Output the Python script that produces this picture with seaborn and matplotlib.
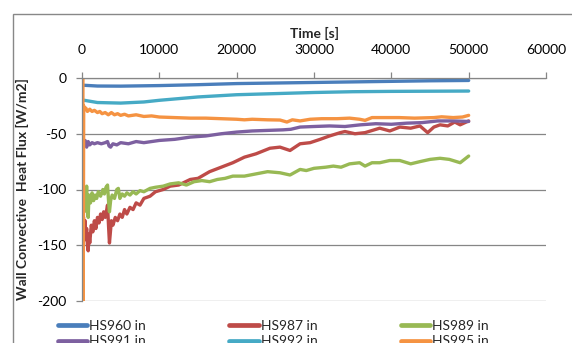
import matplotlib
matplotlib.use("Agg")
import matplotlib.pyplot as plt
import seaborn as sns
import pandas as pd
from matplotlib.patches import Rectangle

# ---------------- data ----------------
series_names = ["HS960 in", "HS987 in", "HS989 in", "HS991 in", "HS992 in", "HS995 in"]
series_colors = ["#4A7EBB", "#BE4B48", "#98B954", "#7D60A0", "#46AAC5", "#F59342"]

t_hs960 = [200, 2000, 5000, 10000, 15000, 20000, 25000, 30000, 35000, 40000, 45000, 50000]
v_hs960 = [-6.5, -7.2, -7.3, -6.8, -6.0, -5.0, -4.5, -4.0, -3.5, -3.0, -2.5, -2.2]

t_hs987 = [200, 300, 400, 500, 600, 700, 800, 900, 1000, 1200, 1400, 1600, 1800, 2000,
           2200, 2400, 2600, 2800, 3000, 3200, 3300, 3450, 3550, 3650, 3800, 4000, 4300,
           4600, 4900, 5200, 5500, 5800, 6200, 6600, 7000, 7500, 8000, 8800, 9500, 10500,
           11400, 12500, 14000, 15000, 16500, 18000, 19500, 21000, 22500, 24300, 25600,
           26900, 28200, 29500, 30800, 32000, 33400, 34000, 35300, 36600, 38500, 39800,
           41100, 42500, 43700, 44700, 45500, 46300, 47300, 48200, 48900, 50000]
v_hs987 = [-125, -140, -128, -145, -135, -150, -155, -140, -148, -132, -138, -128, -135, -125,
           -130, -122, -127, -120, -125, -118, -114, -135, -148, -140, -128, -132, -125,
           -128, -122, -125, -118, -122, -116, -118, -112, -114, -108, -106, -102, -100,
           -97, -96, -91, -90, -84, -80, -76, -71, -68, -63, -62,
           -65, -59, -58, -55, -52, -49, -48, -50, -49, -45, -47.5,
           -44, -45, -43, -49, -44, -42, -43, -39.5, -42, -38.5]

t_hs989 = [200, 300, 400, 500, 600, 700, 800, 900, 1100, 1300, 1500, 1700, 1900, 2100,
           2400, 2700, 2900, 3100, 3300, 3450, 3550, 3700, 3900, 4200, 4500, 4700, 4900,
           5200, 5500, 5800, 6200, 6600, 7000, 7500, 8000, 8800, 9500, 10500, 11400, 12500,
           13500, 14500, 15500, 16500, 17500, 18500, 19500, 21000, 22500, 24000, 25600,
           26900, 28200, 29000, 30000, 31500, 32500, 33500, 34600, 35900, 36600, 37500,
           38500, 39800, 41100, 42500, 43700, 45000, 46300, 47500, 48900, 50000]
v_hs989 = [-98, -120, -100, -112, -97, -118, -125, -105, -112, -103, -110, -105, -108, -102,
           -106, -100, -104, -98, -96, -112, -120, -110, -105, -108, -100, -99, -108,
           -104, -106, -103, -105, -102, -104, -101, -102, -99, -98, -97, -95, -94,
           -96, -93, -92, -93, -91, -90, -88, -88, -86, -84, -85,
           -87, -82, -83, -81, -80, -79, -80, -77, -76, -79, -76,
           -76, -74, -74, -77, -75, -73, -72, -73, -76, -70]

t_hs991 = [200, 400, 600, 800, 1000, 1300, 1600, 2000, 2500, 3000, 3300, 3500, 3700, 4000,
           4500, 5000, 6000, 7000, 8000, 9000, 10000, 12000, 14000, 16000, 18000, 20000,
           22000, 24000, 26000, 27000, 28200, 30000, 32000, 34000, 36000, 38000, 40000,
           42000, 44000, 46000, 48000, 50000]
v_hs991 = [-60, -56, -62, -57, -60, -58, -59, -58, -59, -58, -57, -61, -62, -59,
           -60, -58, -59, -57, -58, -57, -56, -55, -53, -52, -50, -48.5,
           -47.5, -47, -46.5, -46, -44, -43.5, -43, -43.5, -42, -41, -41.5,
           -40.5, -40, -38.5, -38.5, -39]

t_hs992 = [300, 2000, 5000, 8000, 10000, 15000, 20000, 25000, 30000, 35000, 40000, 50000]
v_hs992 = [-20, -22, -22.5, -21.5, -20, -17, -15, -14, -13, -12.3, -12, -11.7]

t_hs995 = [120, 120, 220, 350, 500, 700, 1000, 1300, 1600, 2000, 2300, 2600, 3000, 3400, 3800,
           4200, 4600, 5000, 5500, 6000, 7000, 8000, 9000, 10000, 12000, 14000, 16000,
           18000, 20000, 21000, 22000, 24000, 25600, 26500, 27200, 28200, 29500, 31000,
           33000, 34600, 35900, 36600, 37500, 39000, 41000, 43000, 45500, 46500, 48000,
           49200, 50000]
v_hs995 = [0, -300, -25, -28, -27, -30, -28, -30, -29, -31, -30, -32, -31, -33, -31,
           -33, -32, -33.5, -32.5, -34, -33, -34.5, -34, -35, -35.5, -36, -36,
           -36.5, -37, -37.5, -37, -37.5, -37.7, -39.5, -37.5, -38.5, -37, -36.5,
           -36.5, -36, -37, -38, -35.5, -35.5, -35.5, -36, -35.5, -34.8, -35.5,
           -35, -33.5]

x_ticks = [0, 10000, 20000, 30000, 40000, 50000, 60000]
y_ticks = [0, -50, -100, -150, -200]

# ---------------- build long table ----------------
all_t = [t_hs960, t_hs987, t_hs989, t_hs991, t_hs992, t_hs995]
all_v = [v_hs960, v_hs987, v_hs989, v_hs991, v_hs992, v_hs995]
frames = []
for name, tt, vv in zip(series_names, all_t, all_v):
    frames.append(pd.DataFrame({"Time": tt, "Flux": vv, "Series": name}))
df = pd.concat(frames, ignore_index=True)

# ---------------- plotting ----------------
sns.set_theme(style="white")
plt.rcParams["font.family"] = ["Lato", "DejaVu Sans"]

fig = plt.figure(figsize=(5.72, 3.43), dpi=100)
ax = fig.add_axes([82 / 572, 1 - 301 / 343, (546 - 82) / 572, (301 - 78) / 343])

palette = dict(zip(series_names, series_colors))
sns.lineplot(data=df, x="Time", y="Flux", hue="Series", hue_order=series_names,
             palette=palette, estimator=None, sort=False, units="Series",
             linewidth=2.4, ax=ax, legend=True)

ax.set_xlim(0, 60000)
ax.set_ylim(-200, 0)
ax.set_xticks(x_ticks)
ax.set_yticks(y_ticks)
ax.set_xticklabels([str(v) for v in x_ticks])
ax.set_yticklabels([str(v) for v in y_ticks])

ax.xaxis.tick_top()
ax.xaxis.set_label_position("top")
ax.set_xlabel("Time [s]", fontsize=10, fontweight="bold", labelpad=4)
ax.set_ylabel("Wall Convective  Heat Flux [W/m2]", fontsize=10, fontweight="bold", labelpad=6)

grid_col = "#868686"
ax.yaxis.grid(True, color=grid_col, linewidth=0.9)
ax.xaxis.grid(False)
for side in ["right", "bottom"]:
    ax.spines[side].set_visible(False)
for side in ["top", "left"]:
    ax.spines[side].set_color(grid_col)
    ax.spines[side].set_linewidth(0.9)
ax.tick_params(axis="x", which="both", top=True, bottom=False, direction="out",
               length=4, width=0.9, color=grid_col, pad=12, labelsize=10, labelcolor="black")
ax.tick_params(axis="y", which="both", left=True, direction="out",
               length=4, width=0.9, color=grid_col, pad=7, labelsize=10, labelcolor="black")
ax.set_facecolor("white")

# legend (row-major order in 3 columns)
handles, labels = ax.get_legend_handles_labels()
ax.get_legend().remove()
hmap = dict(zip(labels, handles))
order = ["HS960 in", "HS991 in", "HS987 in", "HS992 in", "HS989 in", "HS995 in"]
leg_handles = [hmap[l] for l in order]
for h in leg_handles:
    h.set_linewidth(3.4)
fig.legend(leg_handles, order, ncol=3, loc="upper left",
           bbox_to_anchor=(58 / 572, 1 - 320 / 343), frameon=False, fontsize=10,
           handlelength=2.1, handletextpad=0.15, columnspacing=6.0, labelspacing=0.25,
           borderaxespad=0, borderpad=0)

# chart area border (cropped like the reference)
fig.patches.append(Rectangle((13 / 572, -0.2), 1.2, 1 - 14 / 343 + 0.2, transform=fig.transFigure,
                             fill=False, edgecolor="#888888", linewidth=1.0, zorder=-1))

fig.savefig("out.png", dpi=100)
